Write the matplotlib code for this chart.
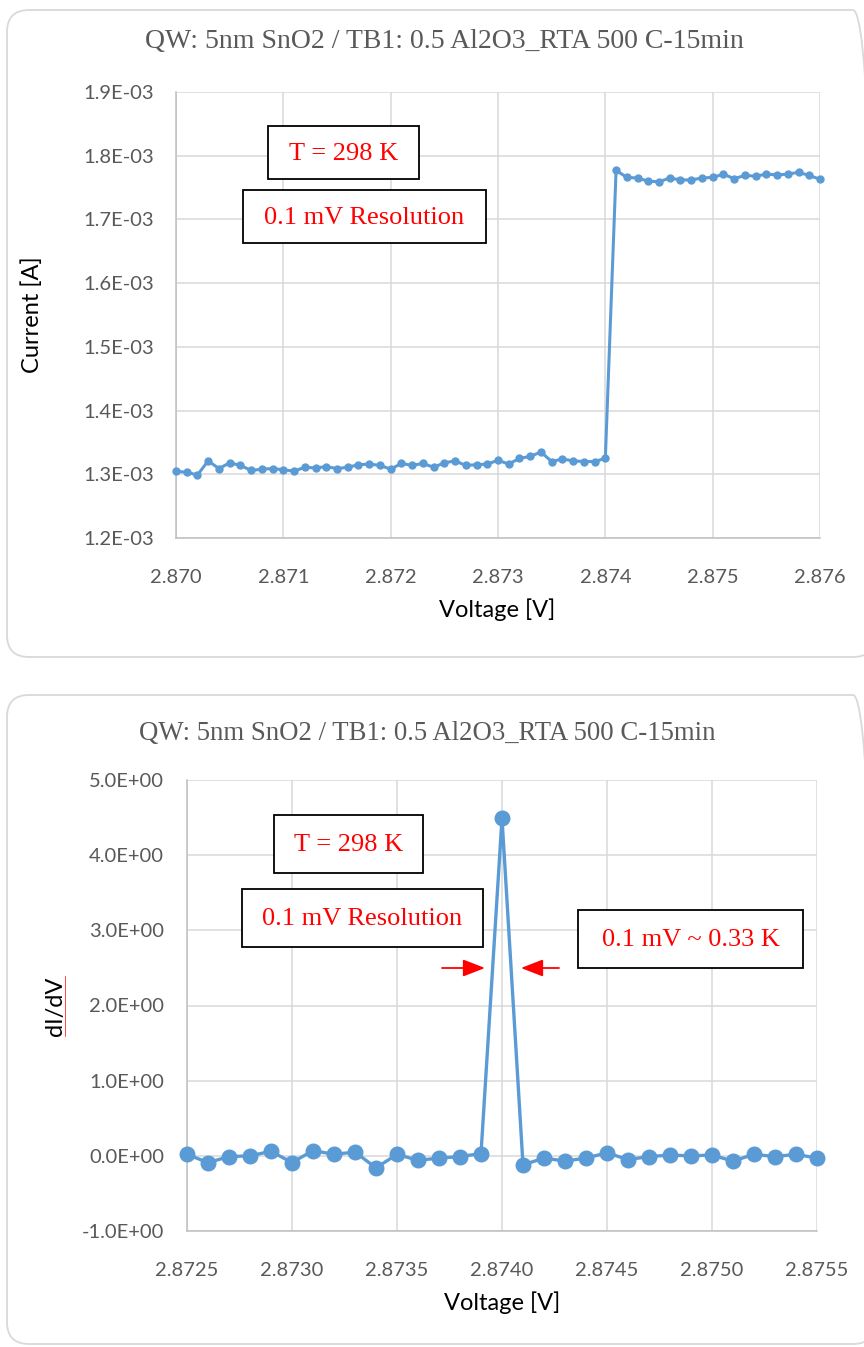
import matplotlib
matplotlib.use("Agg")
import matplotlib.pyplot as plt
from matplotlib.patches import FancyBboxPatch, Rectangle, FancyArrowPatch
from matplotlib.ticker import FormatStrFormatter, FuncFormatter
from matplotlib.lines import Line2D

# ---- data -------------------------------------------------------------
title_text = "QW: 5nm SnO2 / TB1: 0.5 Al2O3_RTA 500 C-15min"

voltage_iv = [
    2.8700, 2.8701, 2.8702, 2.8703, 2.8704, 2.8705, 2.8706, 2.8707, 2.8708, 2.8709,
    2.8710, 2.8711, 2.8712, 2.8713, 2.8714, 2.8715, 2.8716, 2.8717, 2.8718, 2.8719,
    2.8720, 2.8721, 2.8722, 2.8723, 2.8724, 2.8725, 2.8726, 2.8727, 2.8728, 2.8729,
    2.8730, 2.8731, 2.8732, 2.8733, 2.8734, 2.8735, 2.8736, 2.8737, 2.8738, 2.8739,
    2.8740, 2.8741, 2.8742, 2.8743, 2.8744, 2.8745, 2.8746, 2.8747, 2.8748, 2.8749,
    2.8750, 2.8751, 2.8752, 2.8753, 2.8754, 2.8755, 2.8756, 2.8757, 2.8758, 2.8759,
    2.8760,
]
current_mA = [
    1.305, 1.303, 1.299, 1.321, 1.309, 1.318, 1.314, 1.306, 1.308, 1.309,
    1.307, 1.305, 1.311, 1.310, 1.312, 1.309, 1.311, 1.315, 1.316, 1.314,
    1.308, 1.317, 1.314, 1.317, 1.311, 1.318, 1.321, 1.314, 1.315, 1.316,
    1.322, 1.316, 1.325, 1.328, 1.335, 1.320, 1.324, 1.321, 1.320, 1.320,
    1.325, 1.777, 1.766, 1.765, 1.760, 1.759, 1.765, 1.762, 1.762, 1.765,
    1.766, 1.771, 1.764, 1.769, 1.768, 1.771, 1.770, 1.771, 1.774, 1.769,
    1.763,
]
current_A = [c * 1e-3 for c in current_mA]

voltage_didv = [
    2.8725, 2.8726, 2.8727, 2.8728, 2.8729, 2.8730, 2.8731, 2.8732, 2.8733, 2.8734,
    2.8735, 2.8736, 2.8737, 2.8738, 2.8739, 2.8740, 2.8741, 2.8742, 2.8743, 2.8744,
    2.8745, 2.8746, 2.8747, 2.8748, 2.8749, 2.8750, 2.8751, 2.8752, 2.8753, 2.8754,
    2.8755,
]
didv = [
    0.02, -0.09, -0.01, 0.00, 0.06, -0.09, 0.07, 0.02, 0.05, -0.16,
    0.02, -0.06, -0.03, -0.01, 0.03, 4.49, -0.12, -0.03, -0.07, -0.03,
    0.04, -0.05, -0.01, 0.01, 0.00, 0.01, -0.07, 0.02, -0.01, 0.02,
    -0.03,
]

iv_xticks = [2.870, 2.871, 2.872, 2.873, 2.874, 2.875, 2.876]
iv_yticks = [1.2e-3, 1.3e-3, 1.4e-3, 1.5e-3, 1.6e-3, 1.7e-3, 1.8e-3, 1.9e-3]
didv_xticks = [2.8725, 2.8730, 2.8735, 2.8740, 2.8745, 2.8750, 2.8755]
didv_yticks = [-1.0, 0.0, 1.0, 2.0, 3.0, 4.0, 5.0]

# ---- styling ----------------------------------------------------------
W, H = 864, 1347
BLUE = "#5b9bd5"
GRID = "#d9d9d9"
AXLINE = "#bfbfbf"
TICKC = "#595959"
SANS = ["Lato", "DejaVu Sans"]
SERIF = ["Liberation Serif", "DejaVu Serif"]

fig = plt.figure(figsize=(W / 100, H / 100), dpi=100)


def px_axes(l, t, r, b):
    return fig.add_axes([l / W, 1 - b / H, (r - l) / W, (b - t) / H])


def fx(x):
    return x / W


def fy(y):
    return 1 - y / H


def panel(top, bottom):
    # rounded chart-area outline, positioned in inches
    p = FancyBboxPatch((7 / 100, (H - bottom) / 100), (875 - 7) / 100,
                       (bottom - top) / 100,
                       boxstyle="round,pad=0,rounding_size=0.22",
                       transform=fig.dpi_scale_trans, facecolor="none",
                       edgecolor=GRID, linewidth=1.3, zorder=-1)
    fig.patches.append(p)


def style_axes(ax, xpad, ypad):
    ax.patch.set_alpha(0)
    for side in ("top", "right"):
        ax.spines[side].set_visible(False)
    for side in ("left", "bottom"):
        ax.spines[side].set_color(AXLINE)
        ax.spines[side].set_linewidth(1.1)
    ax.grid(True, color=GRID, linewidth=1.1)
    ax.set_axisbelow(True)
    ax.tick_params(length=0, labelsize=14.5, colors=TICKC)
    ax.tick_params(axis="x", pad=xpad)
    ax.tick_params(axis="y", pad=ypad)
    for lab in ax.get_xticklabels() + ax.get_yticklabels():
        lab.set_family(SANS)


def boxed_label(text, l, t, r, b, size=19):
    fig.patches.append(Rectangle((fx(l), fy(b)), fx(r) - fx(l), fy(t) - fy(b),
                                 transform=fig.transFigure, facecolor="white",
                                 edgecolor="black", linewidth=1.3, zorder=5))
    fig.text(fx((l + r) / 2), fy((t + b) / 2 + 1), text, color="red", fontsize=size,
             family=SERIF, ha="center", va="center", zorder=6)


sci = FuncFormatter(lambda v, pos: f"{v:.1E}")

# ---- top panel: I-V ---------------------------------------------------
panel(10, 657)
ax1 = px_axes(176, 92, 820, 538)
ax1.plot(voltage_iv, current_A, color=BLUE, linewidth=2.2, marker="o",
         markersize=5, zorder=3, clip_on=False)
ax1.set_xlim(iv_xticks[0], iv_xticks[-1])
ax1.set_ylim(iv_yticks[0], iv_yticks[-1])
ax1.set_xticks(iv_xticks)
ax1.set_yticks(iv_yticks)
ax1.xaxis.set_major_formatter(FormatStrFormatter("%.3f"))
ax1.yaxis.set_major_formatter(sci)
style_axes(ax1, 22.5, 15.5)

fig.text(fx(444), fy(41), title_text, family=SERIF, fontsize=20, color=TICKC,
         ha="center", va="center")
fig.text(fx(497), fy(610), "Voltage [V]", family=SANS, fontsize=17,
         color="black", ha="center", va="center")
fig.text(fx(32), fy(315), "Current [A]", family=SANS, fontsize=17,
         color="black", ha="center", va="center", rotation=90)

boxed_label("T = 298 K", 268, 126, 419, 179)
boxed_label("0.1 mV Resolution", 243, 190, 486, 243)

# ---- bottom panel: dI/dV ----------------------------------------------
panel(695, 1344)
ax2 = px_axes(187, 780, 817, 1231)
ax2.plot(voltage_didv, didv, color=BLUE, linewidth=2.4, marker="o",
         markersize=10.5, zorder=3, clip_on=False)
ax2.set_xlim(didv_xticks[0], didv_xticks[-1])
ax2.set_ylim(didv_yticks[0], didv_yticks[-1])
ax2.set_xticks(didv_xticks)
ax2.set_yticks(didv_yticks)
ax2.xaxis.set_major_formatter(FormatStrFormatter("%.4f"))
ax2.yaxis.set_major_formatter(sci)
style_axes(ax2, 22.5, 16.5)

fig.text(fx(427), fy(733), title_text, family=SERIF, fontsize=19.3, color=TICKC,
         ha="center", va="center")
fig.text(fx(502), fy(1303), "Voltage [V]", family=SANS, fontsize=17,
         color="black", ha="center", va="center")
fig.text(fx(56), fy(1006), "dI/dV", family=SANS, fontsize=17,
         color="black", ha="center", va="center", rotation=90)
fig.lines.append(Line2D([fx(65), fx(65)], [fy(976), fy(1036)],
                        transform=fig.transFigure, color="red", linewidth=0.5))

boxed_label("T = 298 K", 274, 815, 423, 873)
boxed_label("0.1 mV Resolution", 242, 889, 483, 947)
boxed_label("0.1 mV ~ 0.33 K", 578, 910, 803, 968)

arrow_kw = dict(arrowstyle="-|>,head_length=0.9,head_width=0.35", color="red",
                linewidth=1.3, shrinkA=0, shrinkB=0)
fig.add_artist(FancyArrowPatch(
    (fx(442), fy(968)), (fx(485), fy(968)), transform=fig.transFigure,
    mutation_scale=15, **arrow_kw))
fig.add_artist(FancyArrowPatch(
    (fx(559), fy(968)), (fx(521), fy(968)), transform=fig.transFigure,
    mutation_scale=15, **arrow_kw))

fig.savefig("out.png", dpi=100, facecolor="white")
